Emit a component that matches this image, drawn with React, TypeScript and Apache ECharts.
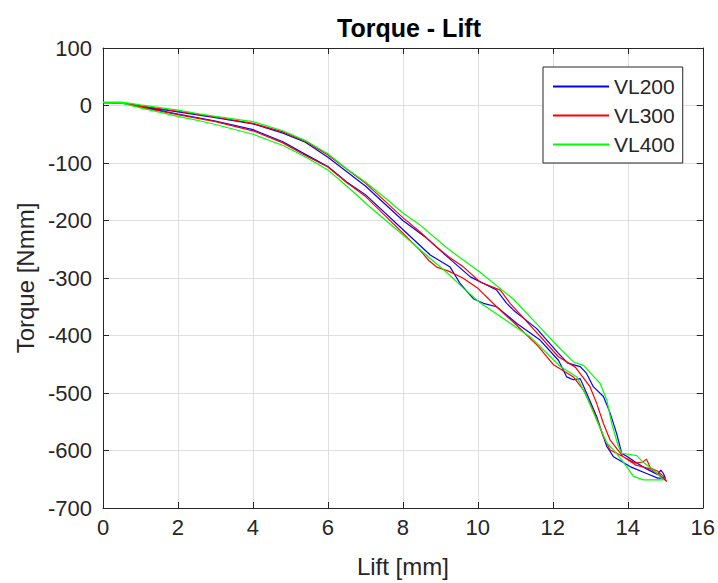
import React, { useEffect, useRef } from "react";
import * as echarts from "echarts";

const chartTitle = "Torque - Lift";
const xAxisName = "Lift [mm]";
const yAxisName = "Torque [Nmm]";
const seriesNames = ["VL200", "VL300", "VL400"];
const seriesColors = ["#0000ff", "#ff0000", "#00ff00"];

// VL200: loop, forward (lower) branch then return (upper) branch
const vl200Lift = [
  0, 0.5, 1, 2, 3, 4, 4.8, 5.4, 6, 6.5, 7, 8.02, 8.73, 9.26, 9.53, 9.88, 10.15, 10.5, 11.04, 11.66,
  12.15, 12.37, 12.55, 12.73, 12.9, 13.17, 13.44, 13.62, 14.06, 14.5, 14.8, 15.0,
  14.95, 14.88, 14.8, 14.5, 14.2, 13.97, 13.84, 13.7, 13.53, 13.35, 13.08, 12.9, 12.73, 12.4, 12.15,
  11.57, 10.95, 10.77, 10.5, 9.8, 9.22, 8.64, 8, 7, 6, 5.4, 4.8, 4, 3, 2, 1, 0.5, 0,
];
const vl200Torque = [
  5, 4, -2, -15, -27, -42, -63, -85, -106, -133, -155, -217, -260, -281, -310, -336, -344, -350, -379, -408,
  -443, -472, -477, -475, -500, -541, -593, -611, -628, -640, -648, -648,
  -640, -634, -642, -632, -620, -610, -605, -570, -535, -506, -489, -466, -454, -448, -431,
  -388, -356, -344, -321, -298, -265, -231, -200, -140, -90, -64, -48, -32, -21, -11, -1, 4, 5,
];

// VL300
const vl300Lift = [
  0, 0.5, 1, 2, 3, 4, 4.8, 5.4, 6, 6.5, 7, 8, 8.46, 8.7, 8.9, 9.22, 9.6, 10.0, 10.5, 11.0,
  11.6, 12.02, 12.55, 12.82, 13.08, 13.35, 13.53, 13.88, 14.2, 14.6, 14.8, 15.04,
  14.95, 14.8, 14.6, 14.5, 14.4, 14.2, 13.88, 13.53, 13.35, 13.17, 12.99, 12.6, 12.15, 11.39, 10.86,
  10.6, 10.06, 9.62, 9.22, 8.9, 8.46, 8, 7, 6, 5.4, 4.8, 4, 3, 2, 1, 0.5, 0,
];
const vl300Torque = [
  5, 5, -3, -16, -28, -44, -65, -87, -107, -134, -158, -222, -252, -270, -281, -288, -300, -318, -350, -380,
  -418, -451, -472, -495, -530, -576, -599, -611, -625, -632, -640, -654,
  -645, -636, -630, -615, -620, -622, -611, -582, -553, -518, -489, -455, -437, -382, -344,
  -321, -307, -281, -263, -246, -220, -195, -135, -86, -62, -46, -31, -20, -10, -1, 5, 5,
];

// VL400
const vl400Lift = [
  0, 0.5, 1, 2, 2.6, 3, 4, 4.82, 5.44, 6, 6.5, 7.13, 8.02, 8.73, 9.22, 9.62, 10.06, 11.39, 12.2, 12.64,
  12.9, 13.17, 13.44, 13.7, 13.97, 14.15, 14.42, 14.95,
  14.95, 14.68, 14.42, 14.24, 14.06, 13.84, 13.75, 13.57, 13.44, 13.26, 13.0, 12.82, 12.55, 12.15,
  11.66, 10.95, 10.06, 9.22, 8.46, 8, 7.57, 7, 6.5, 6, 5.4, 4.8, 4, 3, 2.6, 2, 1, 0.5, 0,
];
const vl400Torque = [
  5, 4, -4, -19, -27, -33, -50, -70, -91, -112, -140, -177, -226, -266, -293, -318, -343, -402, -454, -472,
  -506, -547, -587, -605, -628, -645, -651, -651,
  -650, -634, -621, -609, -607, -605, -593, -553, -512, -483, -465, -452, -446, -420,
  -386, -337, -290, -250, -208, -187, -163, -133, -110, -84, -61, -44, -28, -19, -15, -8, 1, 6, 6,
];

const liftSeries = [vl200Lift, vl300Lift, vl400Lift];
const torqueSeries = [vl200Torque, vl300Torque, vl400Torque];

export default function App() {
  const ref = useRef<HTMLDivElement>(null);
  useEffect(() => {
    const chart = echarts.init(ref.current!, null, { renderer: "svg" });
    const font = "'Liberation Sans', Arial, Helvetica, sans-serif";
    const ink = "#262626";
    const gridColor = "#dedede";
    const tickStyle = { show: true, inside: true, length: 6, lineStyle: { color: ink } };
    const xBase = { type: "value", min: 0, max: 16, interval: 2 };
    const yBase = { type: "value", min: -700, max: 100, interval: 100 };
    chart.setOption({
      animation: false,
      backgroundColor: "#ffffff",
      title: {
        text: chartTitle,
        left: 404,
        top: 10,
        textAlign: "center",
        textStyle: { fontFamily: font, fontSize: 25, fontWeight: "bold", color: "#000" },
      },
      legend: {
        data: seriesNames,
        orient: "vertical",
        left: 543,
        top: 67,
        padding: [9, 8, 8, 10],
        icon: "rect",
        itemWidth: 56,
        itemHeight: 2,
        itemGap: 8,
        borderColor: ink,
        borderWidth: 1,
        backgroundColor: "#ffffff",
        textStyle: { fontFamily: font, fontSize: 21, color: ink, lineHeight: 21 },
      },
      grid: { left: 103, right: 15, top: 48, bottom: 74 },
      xAxis: [
        {
          ...xBase,
          position: "bottom",
          name: xAxisName,
          nameLocation: "middle",
          nameGap: 46,
          nameTextStyle: { fontFamily: font, fontSize: 24, color: ink },
          axisLine: { show: true, onZero: false, lineStyle: { color: ink } },
          axisTick: tickStyle,
          axisLabel: { fontFamily: font, fontSize: 22, color: ink, margin: 8 },
          splitLine: { show: true, lineStyle: { color: gridColor, width: 1 } },
        },
        {
          ...xBase,
          position: "top",
          axisLine: { show: true, onZero: false, lineStyle: { color: ink } },
          axisTick: tickStyle,
          axisLabel: { show: false },
          splitLine: { show: false },
        },
      ],
      yAxis: [
        {
          ...yBase,
          position: "left",
          name: yAxisName,
          nameLocation: "middle",
          nameGap: 64,
          nameTextStyle: { fontFamily: font, fontSize: 24, color: ink },
          axisLine: { show: true, onZero: false, lineStyle: { color: ink } },
          axisTick: tickStyle,
          axisLabel: { fontFamily: font, fontSize: 22, color: ink, margin: 11 },
          splitLine: { show: true, lineStyle: { color: gridColor, width: 1 } },
        },
        {
          ...yBase,
          position: "right",
          axisLine: { show: true, onZero: false, lineStyle: { color: ink } },
          axisTick: tickStyle,
          axisLabel: { show: false },
          splitLine: { show: false },
        },
      ],
      series: seriesNames.map((name, k) => ({
        name,
        type: "line",
        xAxisIndex: 0,
        yAxisIndex: 0,
        symbol: "none",
        smooth: false,
        color: seriesColors[k],
        itemStyle: { color: seriesColors[k] },
        lineStyle: { color: seriesColors[k], width: 1.2 },
        data: liftSeries[k].map((x, i) => [x, torqueSeries[k][i]]),
      })),
    });
    return () => chart.dispose();
  }, []);
  return (
    <div
      ref={ref}
      style={{ position: "fixed", left: 0, top: 0, width: 718, height: 583, background: "#fff" }}
    />
  );
}
